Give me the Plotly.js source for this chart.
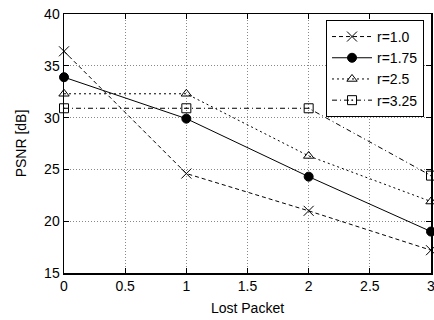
<!DOCTYPE html>
<html><head><meta charset="utf-8">
<script src="https://cdn.plot.ly/plotly-3.0.1.min.js"></script>
<style>html,body{margin:0;padding:0;background:#fff}#c{width:434px;height:320px}</style>
</head><body><div id="c"></div>
<script>
const lostPacket = [0, 1, 2, 3];
const seriesNames = ["r=1.0", "r=1.75", "r=2.5", "r=3.25"];
const psnr_r100 = [36.4, 24.6, 21.0, 17.2];
const psnr_r175 = [33.9, 29.9, 24.3, 19.0];
const psnr_r250 = [32.3, 32.3, 26.3, 21.9];
const psnr_r325 = [30.9, 30.9, 30.9, 24.4];
const xTicks = [0, 0.5, 1, 1.5, 2, 2.5, 3];
const yTicks = [15, 20, 25, 30, 35, 40];

const styles = [
  {dash: '4px,3px', symbol: 'x-thin-open', size: 10},
  {dash: 'solid', symbol: 'circle', size: 9},
  {dash: '2px,3px', symbol: 'triangle-up-open', size: 9},
  {dash: '5px,3px,1px,3px', symbol: 'square-open-dot', size: 9}
];
const ys = [psnr_r100, psnr_r175, psnr_r250, psnr_r325];
const traces = ys.map((y, i) => ({
  x: lostPacket, y: y, name: seriesNames[i], type: 'scatter', mode: 'lines+markers',
  line: {color: '#000', width: 1, dash: styles[i].dash},
  marker: {color: '#000', symbol: styles[i].symbol, size: styles[i].size, line: {color: '#000', width: 1}},
  cliponaxis: false
}));

const font = {family: '"Liberation Sans", Arial, sans-serif', size: 14, color: '#000'};
const axisCommon = {
  showline: true, linecolor: '#000', linewidth: 1.5, mirror: 'ticks',
  ticks: 'inside', ticklen: 5, tickcolor: '#000', tickwidth: 1,
  showgrid: true, gridcolor: '#888', griddash: '1px,2px', gridwidth: 1,
  zeroline: false, tickfont: font, ticklabeloverflow: 'allow'
};
const layout = {
  width: 434, height: 320,
  margin: {l: 64, r: 3, t: 14, b: 47},
  paper_bgcolor: '#fff', plot_bgcolor: '#fff',
  font: font,
  showlegend: true,
  legend: {x: 0.981, y: 0.977, xanchor: 'right', yanchor: 'top',
    bgcolor: '#fff', bordercolor: '#000', borderwidth: 1,
    font: font, tracegroupgap: 0, itemwidth: 40},
  xaxis: Object.assign({}, axisCommon, {range: [0, 3], tickvals: xTicks, ticktext: xTicks.map(String),
    title: {text: 'Lost Packet', font: font, standoff: 10}}),
  yaxis: Object.assign({}, axisCommon, {range: [15, 40], tickvals: yTicks, ticktext: yTicks.map(String),
    title: {text: 'PSNR [dB]', font: font, standoff: 14}})
};
Plotly.newPlot('c', traces, layout, {displayModeBar: false, staticPlot: true});
</script></body></html>
